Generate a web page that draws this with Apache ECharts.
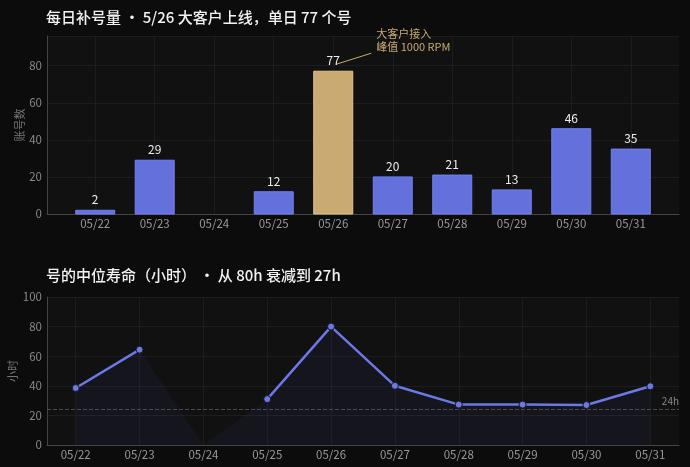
<!DOCTYPE html>
<html>
<head>
<meta charset="utf-8">
<script src="https://cdn.jsdelivr.net/npm/echarts@6/dist/echarts.min.js"></script>
<style>
  html, body { margin: 0; padding: 0; background: #0c0c0c; }
  #main { width: 690px; height: 467px; }
</style>
</head>
<body>
<div id="main"></div>
<script>
var days = ['05/22', '05/23', '05/24', '05/25', '05/26', '05/27', '05/28', '05/29', '05/30', '05/31'];
// 每日补号量 (05/24 无数据)
var dailyAccounts = [2, 29, null, 12, 77, 20, 21, 13, 46, 35];
var peakDay = 4;
// 中位寿命（小时）
var medianLife = [38.5, 64.4, null, 31, 80, 40, 27.3, 27.3, 27, 39.7];
var lifeArea = [38.5, 64.4, 0, 31, 80, 40, 27.3, 27.3, 27, 39.7];
var lifeRef = 24;
var yTicksTop = [0, 20, 40, 60, 80];

var FONT = '"Noto Sans CJK SC", "Noto Sans", sans-serif';
var BLUE = '#6470dc';
var GOLD = '#c8aa72';
var dayIdx = days.map(function (d, i) { return i; });

function dayLabel(v) {
    var i = Math.round(v);
    return Math.abs(v - i) < 1e-6 && i >= 0 && i < days.length ? days[i] : '';
}

var barData = dailyAccounts.map(function (v, i) {
    if (v == null) return [i, null];
    return {
        value: [i, v],
        itemStyle: i === peakDay ? { color: GOLD, borderColor: '#e2c48c' } : { color: BLUE, borderColor: '#7480ee' }
    };
});

var gridBg = '#111111';
var splitCol = '#1d1d1d';

function xAxisOf(idx, min, max) {
    return {
        gridIndex: idx, type: 'value', min: min, max: max,
        axisLine: { show: true, onZero: false, lineStyle: { color: '#444' } },
        axisTick: { show: false, customValues: dayIdx },
        axisLabel: { color: '#999', fontSize: 11.5, margin: 4, customValues: dayIdx, formatter: dayLabel },
        splitLine: { show: false }
    };
}

// 竖向网格线：每天一条，放在图形下面
function dayGridSeries(idx) {
    return {
        type: 'line', xAxisIndex: idx, yAxisIndex: idx, data: [], z: 0, silent: true,
        markLine: {
            silent: true, symbol: 'none', z: 0, animation: false,
            label: { show: false },
            lineStyle: { color: splitCol, type: 'solid', width: 1 },
            data: dayIdx.map(function (i) { return { xAxis: i }; })
        }
    };
}

var chart = echarts.init(document.getElementById('main'));
var option = {
    backgroundColor: '#0c0c0c',
    animation: false,
    textStyle: { fontFamily: FONT },
    title: [
        {
            text: '每日补号量 · 5/26 大客户上线，单日 77 个号',
            left: 41, top: 5,
            textStyle: { color: '#f2f2f2', fontSize: 15, fontWeight: 500, fontFamily: FONT }
        },
        {
            text: '号的中位寿命（小时） · 从 80h 衰减到 27h',
            left: 41, top: 263,
            textStyle: { color: '#f2f2f2', fontSize: 15, fontWeight: 500, fontFamily: FONT }
        }
    ],
    grid: [
        { left: 47, right: 11, top: 36, height: 178, show: true, backgroundColor: gridBg, borderWidth: 0, outerBoundsMode: 'none', containLabel: false },
        { left: 47, right: 11, top: 297, height: 148, show: true, backgroundColor: gridBg, borderWidth: 0, outerBoundsMode: 'none', containLabel: false }
    ],
    xAxis: [xAxisOf(0, -0.81, 9.81), xAxisOf(1, -0.45, 9.45)],
    yAxis: [
        {
            gridIndex: 0, type: 'value', min: 0, max: 96, interval: 20,
            name: '账号数', nameLocation: 'middle', nameGap: 22, nameRotate: 90, nameMoveOverlap: false,
            nameTextStyle: { color: '#777', fontSize: 11 },
            axisLine: { show: true, onZero: false, lineStyle: { color: '#444' } },
            axisTick: { show: false },
            axisLabel: { color: '#888', fontSize: 11.5, margin: 5, showMaxLabel: false,
                formatter: function (v) { return yTicksTop.indexOf(v) >= 0 ? v : ''; } },
            splitLine: { show: true, lineStyle: { color: splitCol } }
        },
        {
            gridIndex: 1, type: 'value', min: 0, max: 100, interval: 20,
            name: '小时', nameLocation: 'middle', nameGap: 29, nameRotate: 90, nameMoveOverlap: false,
            nameTextStyle: { color: '#777', fontSize: 11 },
            axisLine: { show: true, onZero: false, lineStyle: { color: '#444' } },
            axisTick: { show: false },
            axisLabel: { color: '#888', fontSize: 11.5, margin: 5 },
            splitLine: { show: true, lineStyle: { color: splitCol } }
        }
    ],
    series: [
        dayGridSeries(0),
        dayGridSeries(1),
        {
            type: 'bar', xAxisIndex: 0, yAxisIndex: 0, z: 2,
            barWidth: 39,
            data: barData,
            label: { show: true, position: 'top', color: '#eee', fontSize: 12, distance: 4 }
        },
        {
            type: 'line', xAxisIndex: 1, yAxisIndex: 1, z: 2,
            data: lifeArea.map(function (v, i) { return [i, v]; }),
            symbol: 'none',
            lineStyle: { width: 0, opacity: 0 },
            areaStyle: { color: 'rgba(100,110,230,0.08)' },
            silent: true
        },
        {
            type: 'line', xAxisIndex: 1, yAxisIndex: 1, z: 3,
            data: medianLife.map(function (v, i) { return [i, v]; }),
            connectNulls: false,
            symbol: 'circle', symbolSize: 7,
            lineStyle: { color: '#6b78e6', width: 2.5 },
            itemStyle: { color: '#6b78e6', borderColor: '#16161e', borderWidth: 1 },
            markLine: {
                silent: true, symbol: 'none', z: 1,
                lineStyle: { color: '#4a4a4a', type: 'dashed', width: 1 },
                label: { show: true, position: 'insideEndTop', formatter: '24h', color: '#888', fontSize: 10, distance: [0, 3] },
                data: [{ yAxis: lifeRef }]
            }
        }
    ]
};
chart.setOption(option);

// 峰值注释：位置由坐标系换算
var p = chart.convertToPixel({ xAxisIndex: 0, yAxisIndex: 0 }, [peakDay, dailyAccounts[peakDay]]);
chart.setOption({
    graphic: [
        {
            type: 'line',
            shape: { x1: p[0] + 3, y1: p[1] - 7, x2: p[0] + 38, y2: p[1] - 18 },
            style: { stroke: GOLD, lineWidth: 1 }
        },
        {
            type: 'text',
            x: p[0] + 43, y: p[1] - 44,
            style: { text: '大客户接入\n峰值 1000 RPM', fill: GOLD, fontSize: 11, lineHeight: 13, fontFamily: FONT }
        }
    ]
});
</script>
</body>
</html>
